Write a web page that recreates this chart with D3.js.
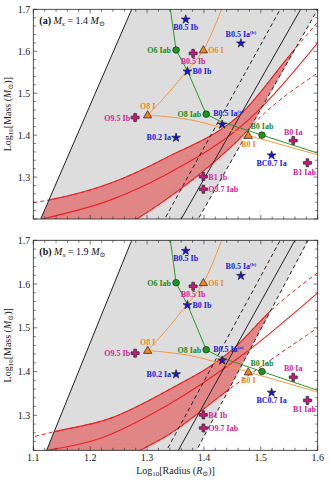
<!DOCTYPE html>
<html><head><meta charset="utf-8">
<script src="https://cdnjs.cloudflare.com/ajax/libs/d3/7.8.5/d3.min.js"></script>
<style>body{margin:0;background:#fff}svg{display:block}text{font-family:"Liberation Serif","DejaVu Serif",serif}</style>
</head><body><svg id="c" width="330" height="481"></svg>
<script>
// ---- data ----
const xTicks = [1.1,1.2,1.3,1.4,1.5,1.6];
const yTicks = [1.2,1.3,1.4,1.5,1.6,1.7];
const stars = [
  {name:"B0.5 Ib", x:1.368, y:1.677, type:"star", pos:"below"},
  {name:"B0.5 Ia", sup:"(b)", x:1.465, y:1.620, type:"star", pos:"above"},
  {name:"B0 Ib", x:1.371, y:1.553, type:"star", pos:"right"},
  {name:"B0.5 Ia", sup:"(a)", x:1.432, y:1.4265, type:"star", pos:"aboveleft"},
  {name:"B0.2 Ia", x:1.351, y:1.395, type:"star", pos:"left"},
  {name:"BC0.7 Ia", x:1.519, y:1.353, type:"star", pos:"below"},
  {name:"O6 Iab", x:1.351, y:1.603, type:"circle", pos:"left"},
  {name:"O8 Iab", x:1.404, y:1.450, type:"circle", pos:"left"},
  {name:"B0 Iab", x:1.502, y:1.400, type:"circle", pos:"above"},
  {name:"O6 I", x:1.399, y:1.603, type:"tri", pos:"right"},
  {name:"O8 I", x:1.301, y:1.448, type:"tri", pos:"above"},
  {name:"B0 I", x:1.478, y:1.399, type:"tri", pos:"below"},
  {name:"B0.5 Ib", x:1.381, y:1.595, type:"cross", pos:"below"},
  {name:"O9.5 Ib", x:1.279, y:1.442, type:"cross", pos:"left"},
  {name:"B0 Ia", x:1.557, y:1.387, type:"cross", pos:"above"},
  {name:"B1 Iab", x:1.582, y:1.334, type:"cross", pos:"belowleft"},
  {name:"B1 Ib", x:1.399, y:1.301, type:"cross", pos:"right"},
  {name:"O9.7 Iab", x:1.399, y:1.271, type:"cross", pos:"right"}
];
const orangeUpper = [[1.431,1.70],[1.399,1.603],[1.362,1.54],[1.332,1.492],[1.301,1.448]];
const orangeLower = [[1.301,1.448],[1.378,1.436],[1.478,1.399],[1.60,1.353]];
const greenTrack = [[1.341,1.70],[1.351,1.603],[1.371,1.553],[1.404,1.450],[1.43,1.432],[1.502,1.400],[1.60,1.357]];
// panel-specific curves
const panels = [
 {label:"(a)", mx:"1.4", yMin:1.2,
  leftSolid:[[1.113,1.2],[1.273,1.7]],
  dashL:[[1.331,1.2],[1.534,1.7]],
  solidM:[[1.36,1.2],[1.57,1.7]],
  dashR:[[1.39,1.2],[1.60,1.7]],
  redC:[[1.115,1.2],[1.235,1.245],[1.332,1.305],[1.478,1.436],[1.60,1.620]],
  redU:[[1.10,1.239],[1.126,1.245],[1.235,1.285],[1.332,1.345],[1.472,1.460],[1.547,1.584],[1.60,1.670]],
  redL:[[1.20,1.14],[1.282,1.2],[1.332,1.245],[1.451,1.376],[1.507,1.453],[1.60,1.548]]},
 {label:"(b)", mx:"1.9", yMin:1.22,
  leftSolid:[[1.1235,1.22],[1.273,1.7]],
  dashL:[[1.3345,1.22],[1.534,1.7]],
  solidM:[[1.355,1.22],[1.560,1.7]],
  dashR:[[1.387,1.22],[1.583,1.7]],
  redC:[[1.1235,1.22],[1.217,1.247],[1.332,1.320],[1.47,1.44],[1.60,1.580]],
  redU:[[1.103,1.252],[1.135,1.262],[1.235,1.293],[1.332,1.354],[1.45,1.45],[1.519,1.541],[1.60,1.626]],
  redL:[[1.22,1.17],[1.288,1.22],[1.332,1.251],[1.45,1.365],[1.60,1.50]]}
];
// ---- drawing ----
const svg = d3.select("#c");
const X0=33.3, X1=317.7;
const x = d3.scaleLinear().domain([1.1,1.6]).range([X0,X1]);
const boxes=[[9.3,219],[240.3,450.3]];
const colors={star:"#1414e6",circle:"#1a9a1a",tri:"#f5821f",cross:"#c8187f"};
const lblCol={star:"#1a1adc",circle:"#1a8a1a",tri:"#f08a20",cross:"#d0259a"};
panels.forEach((p,i)=>{
  const [T,B]=boxes[i];
  const y=d3.scaleLinear().domain([p.yMin,1.7]).range([B,T]);
  const g=svg.append("g");
  const cid="clip"+i;
  g.append("clipPath").attr("id",cid).append("rect").attr("x",X0).attr("y",T).attr("width",X1-X0).attr("height",B-T);
  const pg=g.append("g").attr("clip-path",`url(#${cid})`);
  const line=d3.line().x(d=>x(d[0])).y(d=>y(d[1])).curve(d3.curveMonotoneX);
  const lin=d3.line().x(d=>x(d[0])).y(d=>y(d[1]));
  function ext(seg){const [a,b]=seg;const s=(b[1]-a[1])/(b[0]-a[0]);return [[a[0]+(1.0-a[1])/s,1.0],[a[0]+(2.0-a[1])/s,2.0]];}
  const L=ext(p.leftSolid), R=ext(p.dashR);
  const grayD=lin([L[0],L[1],R[1],R[0]])+"Z";
  pg.append("path").attr("d",grayD).attr("fill","#dddddd");
  // red band: below upper curve, above lower curve, inside gray
  const gid="gclip"+i, lid="lclip"+i;
  g.append("clipPath").attr("id",gid).append("path").attr("d",grayD);
  const lo=p.redL;
  g.append("clipPath").attr("id",lid).append("path")
    .attr("d",line(lo)+`L${x(1.7)},${y(lo[lo.length-1][1])}L${x(1.7)},${y(2.2)}L${x(1.0)},${y(2.2)}L${x(1.0)},${y(lo[0][1])}Z`);
  const band=pg.append("g").attr("clip-path",`url(#${gid})`);
  const up=p.redU;
  band.append("g").attr("clip-path",`url(#${lid})`).append("path")
    .attr("d",line(up)+`L${x(1.7)},${y(up[up.length-1][1])}L${x(1.7)},${y(0.9)}L${x(1.0)},${y(0.9)}L${x(1.0)},${y(up[0][1])}Z`)
    .attr("fill","#e08686");
  // dashed red outside, solid inside
  [p.redU,p.redL].forEach(c=>{
    pg.append("path").attr("d",line(c)).attr("fill","none").attr("stroke","#ec2424").attr("stroke-width",1).attr("stroke-dasharray","4,3");
    band.append("path").attr("d",line(c)).attr("fill","none").attr("stroke","#ec2424").attr("stroke-width",1.1);
  });
  pg.append("path").attr("d",line(p.redC)).attr("fill","none").attr("stroke","#ec2424").attr("stroke-width",1.1);
  // black lines
  pg.append("path").attr("d",lin(L)).attr("stroke","#222").attr("stroke-width",1);
  pg.append("path").attr("d",lin(ext(p.solidM))).attr("stroke","#222").attr("stroke-width",1);
  pg.append("path").attr("d",lin(ext(p.dashL))).attr("stroke","#222").attr("stroke-width",1).attr("stroke-dasharray","4,3");
  pg.append("path").attr("d",lin(R)).attr("stroke","#222").attr("stroke-width",1).attr("stroke-dasharray","4,3");
  // tracks
  const cl=d3.line().x(d=>x(d[0])).y(d=>y(d[1])).curve(d3.curveCatmullRom);
  pg.append("path").attr("d",lin(greenTrack)).attr("fill","none").attr("stroke","#2a9a2a").attr("stroke-width",1);
  pg.append("path").attr("d",cl(orangeUpper)).attr("fill","none").attr("stroke","#f59a40").attr("stroke-width",1);
  pg.append("path").attr("d",cl(orangeLower)).attr("fill","none").attr("stroke","#f59a40").attr("stroke-width",1);
  // markers
  stars.forEach(s=>{
    const px=x(s.x), py=y(s.y);
    let m;
    if(s.type==="star") m=g.append("path").attr("d",d3.symbol(d3.symbolStar,24)()).attr("transform",`translate(${px},${py+0.5})`);
    else if(s.type==="circle") m=g.append("circle").attr("cx",px).attr("cy",py).attr("r",3.3);
    else if(s.type==="tri") m=g.append("path").attr("d",d3.symbol(d3.symbolTriangle,30)()).attr("transform",`translate(${px},${py+0.5})`);
    else m=g.append("path").attr("d",d3.symbol(d3.symbolCross,36)()).attr("transform",`translate(${px},${py})`);
    m.attr("fill",colors[s.type]).attr("stroke","#222").attr("stroke-width",0.7);
    let tx=px,ty=py+3,anc="middle";
    if(s.pos==="left"){tx=px-5;anc="end";}
    if(s.pos==="right"){tx=px+5;anc="start";}
    if(s.pos==="below"){ty=py+11;}
    if(s.pos==="above"){ty=py-6;}
    if(s.pos==="aboveleft"){tx=px-9;ty=py-8;anc="start";}
    if(s.pos==="belowleft"){tx=px-3;ty=py+12;}
    const t=g.append("text").attr("x",tx).attr("y",ty).attr("text-anchor",anc).attr("font-size",8).attr("font-weight","bold").attr("fill",lblCol[s.type]).text(s.name);
    if(s.sup) t.append("tspan").attr("font-size",5).attr("dy",-3).text(s.sup);
  });
  // frame
  g.append("rect").attr("x",X0).attr("y",T).attr("width",X1-X0).attr("height",B-T).attr("fill","none").attr("stroke","#222").attr("stroke-width",0.8);
  // ticks
  const xt=d3.range(1.1,1.6001,0.02);
  xt.forEach(v=>{const major=Math.abs(v*10-Math.round(v*10))<1e-6;const len=major?4:2.5;
    g.append("line").attr("x1",x(v)).attr("x2",x(v)).attr("y1",B).attr("y2",B-len).attr("stroke","#222").attr("stroke-width",0.6);
    g.append("line").attr("x1",x(v)).attr("x2",x(v)).attr("y1",T).attr("y2",T+len).attr("stroke","#222").attr("stroke-width",0.6);});
  const yt=d3.range(1.2,1.7001,0.02).filter(v=>v>=p.yMin-1e-9);
  yt.forEach(v=>{const major=Math.abs(v*10-Math.round(v*10))<1e-6;const len=major?4:2.5;
    g.append("line").attr("x1",X0).attr("x2",X0+len).attr("y1",y(v)).attr("y2",y(v)).attr("stroke","#222").attr("stroke-width",0.6);
    g.append("line").attr("x1",X1).attr("x2",X1-len).attr("y1",y(v)).attr("y2",y(v)).attr("stroke","#222").attr("stroke-width",0.6);});
  yTicks.filter(v=>v>=p.yMin+0.05).forEach(v=>g.append("text").attr("x",X0-3).attr("y",y(v)+3.5).attr("text-anchor","end").attr("font-size",10).attr("fill","#222").text(v.toFixed(1)));
  if(i===1) xTicks.forEach(v=>g.append("text").attr("x",x(v)).attr("y",B+11).attr("text-anchor","middle").attr("font-size",10).attr("fill","#222").text(v.toFixed(1)));
  // panel label
  const pl=g.append("text").attr("x",X0+6).attr("y",T+15).attr("font-size",10).attr("fill","#111");
  pl.append("tspan").attr("font-weight","bold").text(p.label+" ");
  pl.append("tspan").attr("font-style","italic").text("M");
  pl.append("tspan").attr("font-style","italic").attr("font-size",7).attr("dy",2).text("x");
  pl.append("tspan").attr("dy",-2).text(" = "+p.mx+" ");
  pl.append("tspan").attr("font-style","italic").text("M");
  pl.append("tspan").attr("font-size",7).attr("dy",2).text("⊙");
  // y label
  const cy=(T+B)/2;
  const yl=g.append("text").attr("transform",`translate(11,${cy}) rotate(-90)`).attr("text-anchor","middle").attr("font-size",10).attr("fill","#222");
  yl.append("tspan").text("Log");
  yl.append("tspan").attr("font-size",7).attr("dy",2).text("10");
  yl.append("tspan").attr("dy",-2).text("[Mass (");
  yl.append("tspan").attr("font-style","italic").text("M");
  yl.append("tspan").attr("font-size",7).attr("dy",2).text("⊙");
  yl.append("tspan").attr("dy",-2).text(")]");
});
const xl=svg.append("text").attr("x",(X0+X1)/2).attr("y",474).attr("text-anchor","middle").attr("font-size",10).attr("fill","#222");
xl.append("tspan").text("Log");
xl.append("tspan").attr("font-size",7).attr("dy",2).text("10");
xl.append("tspan").attr("dy",-2).text("[Radius (");
xl.append("tspan").attr("font-style","italic").text("R");
xl.append("tspan").attr("font-size",7).attr("dy",2).text("⊙");
xl.append("tspan").attr("dy",-2).text(")]");
</script></body></html>
